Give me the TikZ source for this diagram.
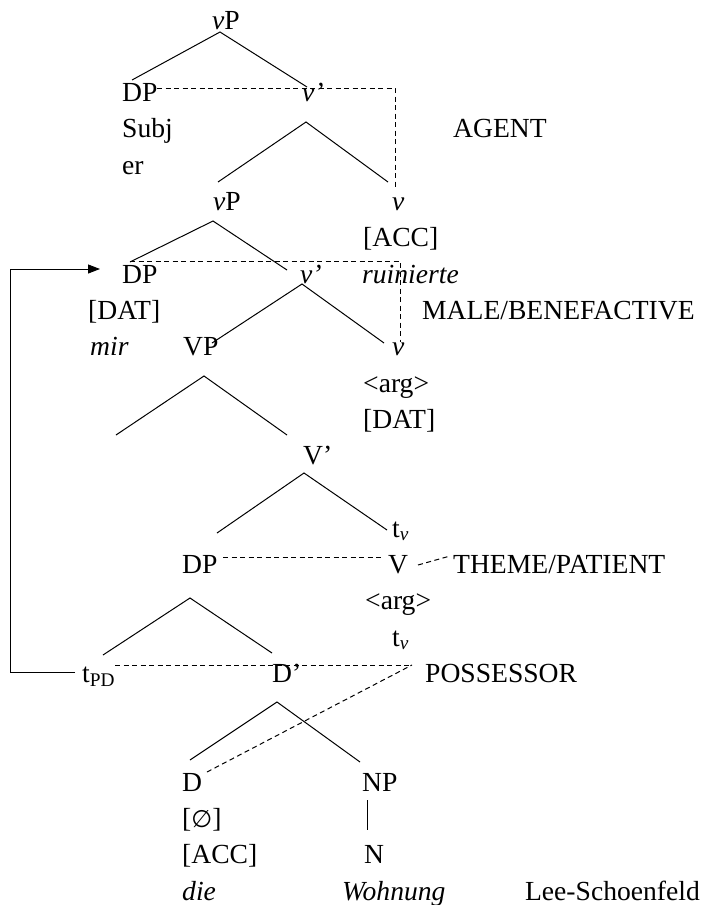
\documentclass[tikz,border=0pt]{standalone}
\usepackage{fontspec}
\setmainfont{Liberation Serif}
\newfontfamily\symfont{DejaVu Sans}
\usetikzlibrary{arrows.meta}
\begin{document}
\begin{tikzpicture}[x=1pt,y=-1pt,
  lbl/.style={anchor=base west,inner sep=0pt,font=\fontsize{27.6}{30}\selectfont},
  lble/.style={anchor=base east,inner sep=0pt,font=\fontsize{27.6}{30}\selectfont},
  br/.style={line width=1pt},
  dsh/.style={line width=1pt,dash pattern=on 5pt off 3.5pt}]
\useasboundingbox (0,0) rectangle (702,905);
% ---- text ----
\node[lbl] (vP0) at (212,29) {\textit{v}P};
\node[lbl] (DPa) at (122,101.6) {DP};
\node[lbl] (vbar1) at (302,101.6) {\textit{v’}};
\node[lbl] (subj) at (122,137.9) {Subj};
\node[lbl] (agent) at (453,137.9) {AGENT};
\node[lbl] (er) at (122,174.2) {er};
\node[lbl] (vP1) at (213,210.5) {\textit{v}P};
\node[lbl] (v1) at (392,210.5) {\textit{v}};
\node[lbl] (acc1) at (363,246.8) {[ACC]};
\node[lbl] (DPb) at (122,283.1) {DP};
\node[lbl] (vbar2) at (300,283.1) {\textit{v’}};
\node[lbl] (ruin) at (362,283.1) {\textit{ruinierte}};
\node[lbl] (dat1) at (88,319.4) {[DAT]};
\node[lbl] (male) at (422,319.4) {MALE/BENEFACTIVE};
\node[lbl] (mir) at (90,355.7) {\textit{mir}};
\node[lbl] (VP) at (183,355.7) {VP};
\node[lbl] (v2) at (392,355.7) {\textit{v}};
\node[lbl] (arg1) at (363,392) {<arg>};
\node[lbl] (dat2) at (363,428.3) {[DAT]};
\node[lbl] (Vbar) at (303,464.6) {V’};
\node[lbl] (tv1) at (392,537.2) {t\textsubscript{\textit{v}}};
\node[lbl] (DPc) at (182,573.5) {DP};
\node[lbl] (V) at (388,573.5) {V};
\node[lbl] (theme) at (453,573.5) {THEME/PATIENT};
\node[lbl] (arg2) at (365,609.8) {<arg>};
\node[lbl] (tv2) at (392,646.1) {t\textsubscript{\textit{v}}};
\node[lbl] (tPD) at (82,682.4) {t\textsubscript{PD}};
\node[lbl] (Dbar) at (272,682.4) {D’};
\node[lbl] (poss) at (425,682.4) {POSSESSOR};
\node[lbl] (D) at (182,791.3) {D};
\node[lbl] (NP) at (362,791.3) {NP};
\node[lbl] (empty) at (182,827.6) {[{\symfont\fontsize{24}{30}\selectfont ∅}]};
\node[lbl] (acc2) at (182,863.9) {[ACC]};
\node[lbl] (N) at (364,863.9) {N};
\node[lbl] (die) at (182,900.2) {\textit{die}};
\node[lbl] (wohn) at (342,900.2) {\textit{Wohnung}};
\node[lble] (lee) at (700,900.2) {Lee-Schoenfeld};
% ---- branch points ----
\coordinate (a1) at (220,32);   \coordinate (a1l) at (132,80);  \coordinate (a1r) at (307,87);
\coordinate (a2) at (306,122);  \coordinate (a2l) at (218,182); \coordinate (a2r) at (388,182);
\coordinate (a3) at (213,221);  \coordinate (a3l) at (130,262); \coordinate (a3r) at (287,270);
\coordinate (a4) at (302,284);  \coordinate (a4l) at (212,343); \coordinate (a4r) at (384,343);
\coordinate (a5) at (204,376);  \coordinate (a5l) at (116,435); \coordinate (a5r) at (287,435);
\coordinate (a6) at (304,473);  \coordinate (a6l) at (217,533); \coordinate (a6r) at (387,530);
\coordinate (a7) at (190,598);  \coordinate (a7l) at (103,655); \coordinate (a7r) at (272,653);
\coordinate (a8) at (277,702);  \coordinate (a8l) at (190,760); \coordinate (a8r) at (360,762);
\coordinate (n1) at (367,800);  \coordinate (n2) at (367,830);
\foreach \p in {1,...,8} {\draw[br] (a\p l) -- (a\p) -- (a\p r);}
\draw[br] (n1) -- (n2);
% ---- dashed links ----
\coordinate (d1s) at (157,88); \coordinate (d1c) at (395,88); \coordinate (d1e) at (395,188);
\draw[dsh] (d1s) -- (d1c) -- (d1e);
\coordinate (d2s) at (130,261); \coordinate (d2c) at (400,261); \coordinate (d2e) at (400,342);
\draw[dsh] (d2s) -- (d2c) -- (d2e);
\coordinate (d3s) at (223,557); \coordinate (d3e) at (384,557);
\draw[dsh] (d3s) -- (d3e);
\coordinate (d4s) at (418,565); \coordinate (d4e) at (450,556);
\draw[dsh] (d4s) -- (d4e);
\coordinate (d5s) at (115,665); \coordinate (d5e) at (412,665);
\draw[dsh] (d5s) -- (d5e);
\coordinate (d6s) at (207,772);
\draw[dsh] (d6s) -- (d5e);
% ---- movement arrow ----
\coordinate (m1) at (75,672); \coordinate (m2) at (10,672); \coordinate (m3) at (10,269); \coordinate (m4) at (100,269);
\draw[br,-{Triangle[length=12pt,width=9pt]}] (m1) -- (m2) -- (m3) -- (m4);
\end{tikzpicture}
\end{document}
